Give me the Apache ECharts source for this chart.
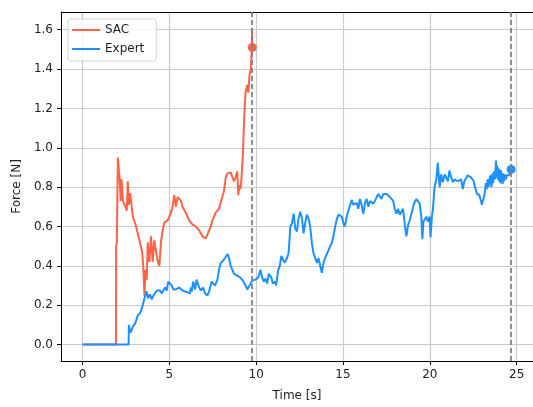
<!DOCTYPE html>
<html>
<head>
<meta charset="utf-8">
<script src="https://cdn.jsdelivr.net/npm/echarts@6/dist/echarts.min.js"></script>
<style>html,body{margin:0;padding:0;background:#fff;}#c{width:533px;height:407px;}</style>
</head>
<body>
<div id="c"></div>
<script>
const xTicks = [0, 5, 10, 15, 20, 25];
const yTicks = [0.0, 0.2, 0.4, 0.6, 0.8, 1.0, 1.2, 1.4, 1.6];
const seriesNames = ['SAC', 'Expert'];
const vLines = [9.77, 24.68];

const sacT = [0,1.93,1.94,1.98,2.04,2.1,2.14,2.2,2.25,2.33,2.42,2.48,2.55,2.61,2.67,2.75,2.9,3.09,3.28,3.44,3.51,3.57,3.63,3.7,3.76,3.85,3.95,4.04,4.14,4.24,4.34,4.43,4.52,4.62,4.71,4.81,4.9,5.0,5.09,5.19,5.29,5.38,5.48,5.57,5.67,5.76,5.95,6.15,6.34,6.53,6.72,6.91,7.1,7.2,7.29,7.39,7.48,7.58,7.67,7.77,7.86,7.96,8.05,8.15,8.25,8.34,8.44,8.53,8.63,8.72,8.82,8.91,8.97,9.04,9.1,9.16,9.24,9.31,9.39,9.49,9.55,9.62,9.7,9.74,9.77,9.78];
const sacF = [0,0,0.50,0.52,0.95,0.88,0.85,0.73,0.84,0.73,0.72,0.70,0.68,0.83,0.71,0.77,0.65,0.60,0.53,0.47,0.38,0.25,0.38,0.33,0.52,0.42,0.55,0.42,0.53,0.47,0.42,0.40,0.52,0.58,0.62,0.63,0.63,0.65,0.67,0.70,0.76,0.70,0.75,0.74,0.73,0.70,0.67,0.63,0.61,0.60,0.58,0.55,0.54,0.56,0.58,0.60,0.63,0.65,0.67,0.68,0.69,0.70,0.75,0.78,0.85,0.87,0.86,0.875,0.87,0.83,0.85,0.88,0.76,0.81,0.79,0.85,0.97,1.15,1.28,1.32,1.28,1.37,1.40,1.48,1.61,1.51];

const expT = [0,2.66,2.67,2.77,2.9,3.05,3.19,3.32,3.44,3.57,3.7,3.78,3.89,3.99,4.09,4.18,4.28,4.37,4.47,4.57,4.66,4.75,4.85,4.94,5.04,5.14,5.23,5.38,5.57,5.67,5.76,5.86,6.05,6.19,6.24,6.3,6.37,6.49,6.57,6.62,6.72,6.82,6.95,7.06,7.2,7.29,7.44,7.54,7.63,7.77,7.86,7.96,8.09,8.21,8.28,8.36,8.44,8.53,8.63,8.72,8.82,8.91,9.01,9.1,9.24,9.39,9.49,9.62,9.77,9.96,10.12,10.25,10.35,10.44,10.54,10.63,10.73,10.88,10.96,11.08,11.15,11.26,11.36,11.45,11.55,11.64,11.78,11.87,11.97,12.06,12.16,12.25,12.35,12.44,12.54,12.64,12.73,12.83,12.92,13.02,13.11,13.21,13.3,13.4,13.5,13.59,13.69,13.78,13.88,13.97,14.07,14.17,14.26,14.35,14.45,14.55,14.64,14.74,14.83,14.93,15.03,15.08,15.16,15.21,15.31,15.41,15.5,15.6,15.69,15.79,15.88,15.98,16.07,16.17,16.27,16.36,16.46,16.55,16.65,16.74,16.84,16.93,17.03,17.13,17.22,17.32,17.41,17.51,17.6,17.7,17.79,17.89,17.98,18.08,18.17,18.27,18.36,18.46,18.56,18.65,18.75,18.84,18.94,19.04,19.13,19.23,19.32,19.42,19.51,19.57,19.63,19.7,19.8,19.89,19.99,20.04,20.12,20.18,20.27,20.37,20.46,20.52,20.57,20.65,20.75,20.85,20.94,21.04,21.13,21.23,21.33,21.42,21.61,21.8,21.9,21.99,22.18,22.37,22.53,22.6,22.72,22.85,23.0,23.14,23.23,23.28,23.33,23.38,23.42,23.47,23.5,23.55,23.6,23.65,23.7,23.75,23.81,23.84,23.87,23.9,23.94,23.98,24.02,24.06,24.09,24.13,24.16,24.19,24.23,24.28,24.32,24.38,24.43,24.47,24.52,24.57,24.62,24.68];
const expF = [0,0,0.10,0.06,0.09,0.11,0.15,0.16,0.19,0.235,0.27,0.235,0.255,0.23,0.25,0.24,0.275,0.27,0.275,0.26,0.27,0.29,0.275,0.32,0.325,0.30,0.28,0.28,0.29,0.30,0.275,0.28,0.265,0.26,0.29,0.27,0.32,0.28,0.33,0.33,0.29,0.275,0.29,0.26,0.25,0.27,0.32,0.33,0.30,0.33,0.38,0.415,0.425,0.44,0.45,0.46,0.44,0.40,0.38,0.36,0.365,0.35,0.36,0.34,0.325,0.30,0.28,0.30,0.325,0.33,0.34,0.38,0.34,0.32,0.335,0.31,0.36,0.34,0.31,0.32,0.30,0.375,0.40,0.45,0.46,0.415,0.44,0.465,0.60,0.615,0.665,0.59,0.575,0.64,0.675,0.64,0.565,0.62,0.66,0.64,0.60,0.515,0.465,0.44,0.415,0.44,0.43,0.365,0.415,0.44,0.46,0.48,0.50,0.515,0.55,0.60,0.635,0.66,0.665,0.65,0.64,0.60,0.62,0.65,0.68,0.69,0.735,0.71,0.70,0.72,0.69,0.74,0.71,0.665,0.72,0.74,0.70,0.73,0.74,0.715,0.73,0.74,0.765,0.775,0.74,0.765,0.775,0.765,0.76,0.75,0.75,0.73,0.69,0.665,0.69,0.66,0.665,0.69,0.61,0.55,0.61,0.63,0.665,0.70,0.725,0.74,0.74,0.715,0.65,0.535,0.625,0.63,0.65,0.625,0.65,0.545,0.65,0.69,0.80,0.835,0.925,0.85,0.80,0.865,0.825,0.865,0.85,0.83,0.885,0.85,0.825,0.84,0.83,0.84,0.79,0.83,0.86,0.85,0.83,0.80,0.765,0.76,0.71,0.76,0.82,0.79,0.84,0.80,0.81,0.86,0.85,0.80,0.87,0.82,0.88,0.84,0.935,0.85,0.91,0.84,0.90,0.83,0.89,0.82,0.885,0.83,0.87,0.815,0.87,0.83,0.865,0.84,0.86,0.85,0.87,0.86,0.88,0.89];

const RED = '#FF6347', BLUE = '#1E90FF';
const FONT = 'DejaVu Sans';
const zip = (a, b) => a.map((v, i) => [v, b[i]]);

const chart = echarts.init(document.getElementById('c'), null, {renderer: 'canvas'});
const axisLineStyle = {show: true, onZero: false, lineStyle: {color: '#000', width: 1}};
const tickStyle = {show: true, length: 4, inside: false, lineStyle: {color: '#000', width: 1}};
const gridLine = {show: true, lineStyle: {color: '#cccccc', width: 1.2}};
chart.setOption({
  animation: false,
  backgroundColor: '#fff',
  textStyle: {fontFamily: FONT},
  grid: {left: 61, top: 12, right: -2, bottom: 40, containLabel: false},
  legend: {
    data: seriesNames,
    orient: 'vertical',
    left: 68, top: 19,
    padding: [4, 12, 5, 4],
    itemGap: 5,
    itemWidth: 28, itemHeight: 2,
    itemTextGap: 10,
    icon: 'rect',
    borderColor: '#d5d5d5', borderWidth: 1, borderRadius: 3,
    backgroundColor: 'rgba(255,255,255,0.8)',
    textStyle: {fontFamily: FONT, fontSize: 12, color: '#222', lineHeight: 14}
  },
  xAxis: [{
    type: 'value', min: -1.235, max: 25.94,
    name: 'Time [s]', nameLocation: 'middle', nameGap: 29,
    nameTextStyle: {fontFamily: FONT, fontSize: 12, color: '#222'},
    axisLine: axisLineStyle,
    splitLine: gridLine,
    axisTick: {...tickStyle, customValues: xTicks},
    axisLabel: {customValues: xTicks, margin: 8, fontFamily: FONT, fontSize: 12, color: '#222', formatter: v => String(v)}
  }, {
    type: 'value', position: 'top', min: -1.235, max: 25.94,
    axisLine: axisLineStyle,
    axisTick: {show: false}, axisLabel: {show: false}, splitLine: {show: false}
  }],
  yAxis: {
    type: 'value', min: -0.0835, max: 1.69,
    name: 'Force [N]', nameLocation: 'middle', nameGap: 32, nameRotate: 90,
    nameTextStyle: {fontFamily: FONT, fontSize: 12, color: '#222'},
    axisLine: axisLineStyle,
    splitLine: gridLine,
    axisTick: {...tickStyle, customValues: yTicks},
    axisLabel: {customValues: yTicks, margin: 8, fontFamily: FONT, fontSize: 12, color: '#222', formatter: v => v.toFixed(1)}
  },
  series: [
    {name: 'SAC', type: 'line', data: zip(sacT, sacF), showSymbol: false, symbol: 'none',
     lineStyle: {color: RED, width: 2}, itemStyle: {color: RED}, z: 3},
    {name: 'Expert', type: 'line', data: zip(expT, expF), showSymbol: false, symbol: 'none',
     lineStyle: {color: BLUE, width: 2}, itemStyle: {color: BLUE}, z: 3},
    {name: 'SAC end', type: 'scatter', data: [[sacT[sacT.length-1], sacF[sacF.length-1]]],
     symbolSize: 9, itemStyle: {color: RED, opacity: 1}, z: 4},
    {name: 'Expert end', type: 'scatter', data: [[expT[expT.length-1], expF[expF.length-1]]],
     symbolSize: 9, itemStyle: {color: BLUE, opacity: 1}, z: 4},
    {name: 'vlines', type: 'line', data: [], z: 5,
     markLine: {silent: true, symbol: 'none', label: {show: false},
       lineStyle: {color: '#808080', width: 1.8, type: [5, 3]},
       data: vLines.map(v => ({xAxis: v}))}}
  ]
});
</script>
</body>
</html>
